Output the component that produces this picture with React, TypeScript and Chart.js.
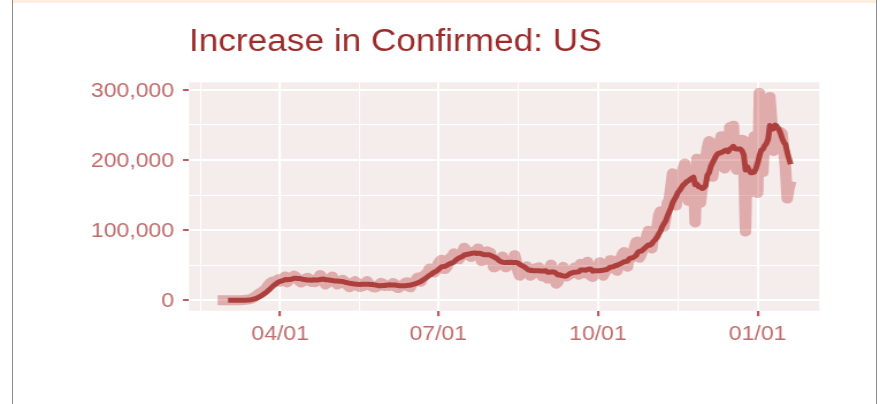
import React, { useEffect, useRef } from 'react';
import { Chart, registerables } from 'chart.js';

Chart.register(...registerables);

// ---- data (day index: 2020-01-01 = 0) ----
const startDay = 55; // 2020-02-25
const feb2020 = [0, 6, 1, 3, 6];
const mar2020 = [7, 23, 19, 33, 77, 53, 166, 116, 75, 300, 500, 700, 1000, 1500, 2000, 3000, 4500, 6000, 8000, 10000, 11000, 13000, 15000, 17000, 21000, 24000, 26000, 27000, 27000, 28000, 30000];
const apr2020 = [26400, 29700, 32300, 34100, 25500, 29600, 30500, 32400, 35000, 33600, 29900, 27600, 25400, 26400, 29700, 31300, 32100, 29900, 26100, 28600, 25700, 29100, 31800, 36200, 33100, 27100, 22700, 24400, 27300, 29500];
const may2020 = [33900, 29000, 25100, 22600, 23800, 25000, 29400, 26900, 25600, 20600, 18700, 22000, 20800, 27400, 25400, 24200, 18900, 22600, 20300, 22500, 27400, 24000, 22200, 19400, 18500, 18300, 19500, 22400, 24800, 24000, 20600];
const jun2020 = [21500, 20600, 20500, 21800, 24700, 23000, 18400, 17500, 18700, 21000, 22600, 25000, 25600, 19500, 18800, 23700, 25600, 28000, 32000, 33000, 26500, 31000, 35500, 38000, 39500, 45500, 43000, 41000, 39800, 44500];
const jul2020 = [52000, 56000, 58000, 45000, 44700, 48000, 56000, 61000, 59800, 67000, 61700, 59000, 58700, 63000, 67800, 75000, 71500, 64500, 63600, 61700, 66900, 70200, 68800, 74000, 65400, 55800, 56600, 64600, 70000, 69000, 68000];
const aug2020 = [58000, 47000, 48000, 53800, 53800, 58000, 62500, 55000, 47000, 48700, 53400, 55800, 52900, 64400, 55000, 41000, 35100, 45000, 46000, 44000, 48600, 44500, 35000, 36700, 39800, 45700, 46000, 47000, 43000, 34000, 36500];
const sep2020 = [42500, 31000, 45500, 51000, 43700, 30800, 23700, 26500, 34600, 36700, 47800, 40800, 34000, 35500, 39500, 38500, 45200, 47300, 42700, 36500, 52000, 39200, 38600, 44700, 55000, 45500, 34700, 33400, 43000, 39200];
const oct2020 = [45000, 54400, 49000, 35000, 40500, 43000, 51000, 57000, 57000, 53000, 45000, 42000, 53000, 59000, 65000, 69000, 55000, 48000, 66000, 60000, 62000, 75000, 83000, 83700, 60800, 66800, 74000, 78800, 90000, 99000, 81000];
const nov2020 = [74000, 92000, 91000, 103000, 121000, 127000, 126000, 105000, 118000, 139000, 143000, 161000, 181000, 158000, 135000, 158000, 160000, 170000, 187000, 195000, 178000, 142000, 174000, 172000, 181000, 111000, 202000, 152000, 139000, 159000];
const dec2020 = [180000, 200000, 217000, 227000, 213000, 176000, 192000, 216000, 221000, 224000, 234000, 219000, 188000, 198000, 199000, 247000, 237000, 249000, 194000, 186000, 197000, 199000, 229000, 197000, 98000, 226000, 153000, 172000, 199000, 234000, 234000];
const jan2021 = [153000, 296000, 209000, 183000, 234000, 255000, 278000, 290000, 258000, 213000, 220000, 224000, 229000, 240000, 238000, 215000, 190000, 145000, 160000, 170000];

const dailyIncrease = [
  ...feb2020, ...mar2020, ...apr2020, ...may2020, ...jun2020, ...jul2020,
  ...aug2020, ...sep2020, ...oct2020, ...nov2020, ...dec2020, ...jan2021,
];

const xTickDays = [91, 182, 274, 366];
const xTickLabels = ['04/01', '07/01', '10/01', '01/01'];
const yTickValues = [0, 100000, 200000, 300000];
const chartTitle = 'Increase in Confirmed: US';

// ---- layout (canvas drawn at reduced width, stretched horizontally by CSS) ----
const CSS_W = 880;
const CSS_H = 404;
const CANVAS_W = 765;
const SX = CSS_W / CANVAS_W;

const panelBg: any = {
  id: 'panelBg',
  beforeDraw(chart: any) {
    const { ctx, chartArea } = chart;
    ctx.save();
    ctx.fillStyle = '#f5ecec';
    ctx.fillRect(chartArea.left, chartArea.top, chartArea.right - chartArea.left, chartArea.bottom - chartArea.top);
    ctx.restore();
  },
};

export default function App() {
  const ref = useRef<HTMLCanvasElement>(null);

  useEffect(() => {
    const days = dailyIncrease.map((_, i) => startDay + i);
    const dailyPts = dailyIncrease.map((v, i) => ({ x: days[i], y: v }));
    const avgPts: { x: number; y: number }[] = [];
    for (let i = 6; i < dailyIncrease.length; i++) {
      let s = 0;
      for (let k = i - 6; k <= i; k++) s += dailyIncrease[k];
      avgPts.push({ x: days[i], y: s / 7 });
    }
    const xMinor: number[] = [xTickDays[0] - (xTickDays[1] - xTickDays[0]) / 2];
    for (let i = 0; i < xTickDays.length - 1; i++) xMinor.push((xTickDays[i] + xTickDays[i + 1]) / 2);
    const xAll = [...xTickDays, ...xMinor].sort((a, b) => a - b);
    const yStep = yTickValues[1] - yTickValues[0];
    const yAll: number[] = [];
    for (let v = yTickValues[0]; v <= yTickValues[yTickValues.length - 1]; v += yStep / 2) yAll.push(v);

    const first = days[0];
    const last = days[days.length - 1];
    const xExp = (last - first) * 0.05;
    const yMax = Math.max(...dailyIncrease);
    const yExp = yMax * 0.05;

    const isMajorX = (v: number) => xTickDays.indexOf(v) >= 0;
    const isMajorY = (v: number) => yTickValues.indexOf(v) >= 0;
    const textColor = '#c06c6c';
    const tickColor = '#bd5c5c';
    const font = 'Liberation Sans, Arial, Helvetica, sans-serif';

    const chart = new Chart(ref.current as HTMLCanvasElement, {
      type: 'line',
      data: {
        datasets: [
          {
            label: 'daily',
            data: dailyPts,
            borderColor: 'rgba(178,34,34,0.32)',
            borderWidth: 10,
            borderCapStyle: 'butt',
            borderJoinStyle: 'round',
            pointRadius: 0,
            tension: 0,
            fill: false,
          },
          {
            label: '7-day average',
            data: avgPts,
            borderColor: '#ab4f4b',
            borderWidth: 5,
            borderCapStyle: 'butt',
            borderJoinStyle: 'round',
            pointRadius: 0,
            tension: 0,
            fill: false,
          },
        ],
      },
      options: {
        responsive: false,
        animation: false,
        devicePixelRatio: 1,
        layout: { padding: { left: 0, right: CANVAS_W - 819.3 / SX, top: 0, bottom: 0 } },
        plugins: {
          legend: { display: false },
          tooltip: { enabled: false },
          title: {
            display: true,
            text: chartTitle,
            align: 'start',
            fullSize: false,
            color: '#9c2c2c',
            font: { family: font, size: 30.6, weight: 'normal', lineHeight: 1.2 },
            padding: { top: 24.2, bottom: 21.4 },
          },
        },
        scales: {
          x: {
            type: 'linear',
            min: first - xExp,
            max: last + xExp,
            afterBuildTicks: (scale: any) => {
              scale.ticks = xAll.map((v) => ({ value: v }));
            },
            afterFit: (scale: any) => {
              scale.height = CSS_H - 310.7;
            },
            ticks: {
              autoSkip: false,
              maxRotation: 0,
              padding: 6.5,
              color: textColor,
              font: { family: font, size: 20 },
              callback: (v: any) => {
                const i = xTickDays.indexOf(Number(v));
                return i >= 0 ? xTickLabels[i] : '';
              },
            },
            grid: {
              color: '#ffffff',
              lineWidth: (ctx: any) => (ctx.tick && isMajorX(ctx.tick.value) ? 2.2 : 1.1),
              tickLength: 5.5,
              tickWidth: 2.2,
              tickColor: (ctx: any) => (ctx.tick && isMajorX(ctx.tick.value) ? tickColor : 'rgba(0,0,0,0)'),
            },
            border: { display: false },
          },
          y: {
            type: 'linear',
            min: -yExp,
            max: yMax + yExp,
            afterBuildTicks: (scale: any) => {
              scale.ticks = yAll.map((v) => ({ value: v }));
            },
            afterFit: (scale: any) => {
              scale.width = 189 / SX;
            },
            ticks: {
              autoSkip: false,
              padding: 7.8,
              labelOffset: 1.5,
              color: textColor,
              font: { family: font, size: 20 },
              callback: (v: any) => (isMajorY(Number(v)) ? Number(v).toLocaleString('en-US') : ''),
            },
            grid: {
              color: '#ffffff',
              lineWidth: (ctx: any) => (ctx.tick && isMajorY(ctx.tick.value) ? 2 : 1),
              tickLength: 5.2,
              tickWidth: 2,
              tickColor: (ctx: any) => (ctx.tick && isMajorY(ctx.tick.value) ? tickColor : 'rgba(0,0,0,0)'),
            },
            border: { display: false },
          },
        },
      },
      plugins: [panelBg],
    } as any);
    return () => chart.destroy();
  }, []);

  return (
    <div style={{ position: 'absolute', left: 0, top: 0, width: CSS_W, height: CSS_H, background: '#ffffff', overflow: 'hidden' }}>
      <div style={{ position: 'absolute', left: 12, top: 0, width: 865, height: 3, background: '#fdeee0' }} />
      <div style={{ position: 'absolute', left: 12, top: 0, width: 1, height: CSS_H, background: '#8c8c8c' }} />
      <div style={{ position: 'absolute', left: 876, top: 0, width: 1, height: CSS_H, background: '#8c8c8c' }} />
      <canvas
        ref={ref}
        width={CANVAS_W}
        height={CSS_H}
        style={{ position: 'absolute', left: 0, top: 0, width: CSS_W, height: CSS_H }}
      />
    </div>
  );
}
